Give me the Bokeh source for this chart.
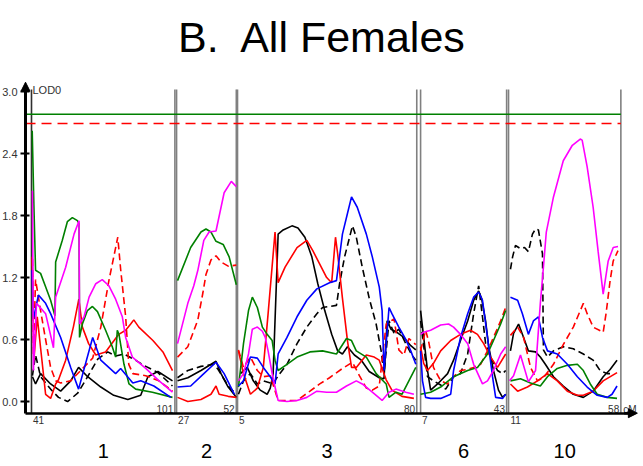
from bokeh.plotting import figure
from bokeh.models import (LinearAxis, FixedTicker, Range1d, Label, LabelSet, Arrow, NormalHead,
                          PrintfTickFormatter, CustomJSTickFormatter, ColumnDataSource)
from bokeh.embed import file_html
from bokeh.resources import INLINE
from bokeh.core.properties import value

# ---------------- chart data ----------------
title_text = "B.\u00a0 All Females"
chrom_names = ["1", "2", "3", "6", "10"]
chrom_start_cm = [41, 27, 5, 7, 11]
chrom_end_cm = [101, 52, 80, 43, 58]
lod_ticks = [0.0, 0.6, 1.2, 1.8, 2.4, 3.0]
threshold_green = 2.78
threshold_red_dash = 2.69

# chromosome 1
c1_black_cm = [41.4, 42.7, 44.8, 49.0, 53.2, 57.4, 60.7, 64.5, 70.0, 75.4, 81.3, 86.7, 89.7, 93.9, 100]
c1_black_lod = [0.24, 0.17, 0.27, 0.17, 0.10, 0.20, 0.33, 0.24, 0.14, 0.06, 0.02, 0.06, 0.24, 0.29, 0.20]
c1_blackd_cm = [41.4, 42.7, 44.8, 49.0, 52.3, 56.1, 60.3, 64.5, 68.7, 72.9, 76.2, 79.6, 83.8, 88.0, 93.9, 100]
c1_blackd_lod = [0.25, 0.45, 0.24, 0.12, 0.04, 0.0, 0.08, 0.24, 0.41, 0.48, 0.44, 0.46, 0.41, 0.35, 0.28, 0.15]
c1_red_cm = [41.3, 42.0, 43.4, 46.9, 49.0, 51.1, 52.3, 55.3, 58.6, 60.8, 62.3, 64.9, 67.9, 72.0, 77.5, 80.4, 82.5, 83.8, 85.9, 91.8, 96.0, 100]
c1_red_lod = [1.40, 0.40, 0.82, 0.07, 0.03, 0.17, 0.21, 0.40, 0.73, 0.99, 0.72, 0.56, 0.45, 0.48, 0.65, 0.69, 0.75, 0.79, 0.72, 0.59, 0.48, 0.30]
c1_redd_cm = [41.4, 41.8, 42.7, 44.8, 46.9, 49.0, 51.1, 53.2, 57.4, 61.6, 66.6, 70.0, 73.3, 77.1, 78.3, 80.4, 81.7, 83.4, 88.8, 94.3, 100]
c1_redd_lod = [1.38, 0.45, 1.18, 0.88, 0.60, 0.33, 0.20, 0.18, 0.20, 0.30, 0.42, 0.72, 1.16, 1.59, 1.28, 0.82, 0.36, 0.27, 0.25, 0.20, 0.10]
c1_green_cm = [41.3, 42.0, 42.7, 44.8, 46.9, 49.0, 50.8, 51.1, 53.9, 56.0, 58.1, 60.2, 60.9, 61.1, 62.3, 64.4, 66.5, 68.6, 72.0, 74.8, 76.2, 76.9, 77.6, 79.7, 81.8, 84.6, 91.6, 100]
c1_green_lod = [2.62, 1.90, 1.27, 1.24, 1.11, 0.98, 0.83, 1.35, 1.56, 1.74, 1.78, 1.75, 1.72, 0.62, 0.75, 0.88, 0.92, 0.87, 0.69, 0.53, 0.43, 0.69, 0.65, 0.36, 0.17, 0.12, 0.09, 0.04]
c1_blue_cm = [41.2, 41.8, 43.9, 46.9, 49.0, 53.2, 57.4, 60.7, 66.6, 70.0, 76.2, 78.3, 83.4, 86.7, 92.2, 99.3]
c1_blue_lod = [1.27, 0.80, 1.03, 0.95, 0.85, 0.62, 0.33, 0.12, 0.62, 0.40, 0.27, 0.32, 0.18, 0.20, 0.15, 0.04]
c1_magenta_cm = [41.4, 41.8, 43.1, 46.9, 50.2, 51.1, 55.3, 58.8, 60.9, 61.1, 63.0, 65.1, 67.9, 70.6, 73.4, 76.2, 79.0, 80.4, 83.2, 88.8, 94.4, 100]
c1_magenta_lod = [2.04, 0.30, 0.95, 0.85, 0.52, 1.01, 1.30, 1.62, 1.75, 0.75, 0.82, 1.01, 1.14, 1.18, 1.12, 0.99, 0.82, 0.62, 0.43, 0.32, 0.20, 0.09]

# chromosome 2
c2_black_cm = [27.4, 31.7, 37.2, 43.5, 45.6, 48.6, 52.0]
c2_black_lod = [0.20, 0.23, 0.30, 0.39, 0.27, 0.14, 0.04]
c2_blackd_cm = [27.4, 31.7, 37.2, 42.7, 44.4, 48.6, 52.0]
c2_blackd_lod = [0.23, 0.30, 0.34, 0.36, 0.31, 0.15, 0.07]
c2_red_cm = [27.4, 31.7, 37.2, 41.4, 43.5, 44.8, 48.6, 52.0]
c2_red_lod = [0.04, 0.0, 0.02, 0.07, 0.15, 0.07, 0.05, 0.04]
c2_redd_cm = [27.4, 31.7, 35.9, 38.0, 39.3, 41.4, 43.5, 45.6, 48.6, 52.0]
c2_redd_lod = [0.43, 0.53, 0.79, 1.05, 1.23, 1.37, 1.41, 1.35, 1.31, 1.32]
c2_green_cm = [27.4, 32.9, 37.2, 39.3, 41.4, 43.5, 46.5, 49.0, 52.0]
c2_green_lod = [1.17, 1.49, 1.64, 1.67, 1.64, 1.55, 1.52, 1.40, 1.13]
c2_blue_cm = [27.4, 32.9, 38.4, 43.5, 46.9, 51.2]
c2_blue_lod = [0.14, 0.15, 0.27, 0.38, 0.27, 0.07]
c2_magenta_cm = [27.4, 31.7, 34.2, 35.9, 38.4, 40.6, 43.5, 46.9, 49.9, 52.0]
c2_magenta_lod = [0.56, 0.95, 1.12, 1.27, 1.56, 1.64, 1.65, 2.02, 2.13, 2.08]

# chromosome 3
c3_black_cm = [6.2, 9.1, 11.6, 14.5, 17.4, 18.7, 19.9, 22.0, 24.1, 27.8, 30.3, 33.2, 36.1, 38.6, 41.5, 44.4, 46.9, 48.9, 51.0, 53.9, 56.8, 60.1, 64.3, 66.3, 67.6, 69.2, 71.7, 74.6, 77.5, 79.6]
c3_black_lod = [0.27, 0.33, 0.20, 0.11, 0.07, 0.13, 0.27, 1.62, 1.66, 1.70, 1.68, 1.59, 1.40, 1.14, 0.88, 0.65, 0.49, 0.46, 0.53, 0.45, 0.40, 0.29, 0.23, 0.22, 0.78, 0.70, 0.67, 0.62, 0.54, 0.50]
c3_blackd_cm = [5.4, 7.5, 10.4, 13.3, 15.8, 19.9, 22.0, 25.7, 29.9, 34.0, 38.2, 40.6, 46.4, 47.7, 49.8, 53.1, 54.7, 57.2, 60.1, 63.0, 65.1, 66.3, 68.4, 70.5, 72.5, 75.4, 77.9, 79.6]
c3_blackd_lod = [0.07, 0.20, 0.27, 0.17, 0.20, 0.17, 0.25, 0.36, 0.56, 0.72, 0.85, 0.91, 0.93, 1.14, 1.40, 1.70, 1.59, 1.30, 1.00, 0.75, 0.49, 0.27, 0.78, 0.66, 0.70, 0.56, 0.45, 0.40]
c3_red_cm = [5.4, 7.5, 10.4, 13.3, 15.8, 17.8, 20.7, 22.0, 24.9, 29.9, 34.0, 36.5, 39.4, 42.3, 44.4, 46.0, 46.9, 48.9, 51.0, 52.7, 54.7, 58.9, 62.2, 64.3, 67.2, 69.6, 73.8, 78.8]
c3_red_lod = [0.49, 0.27, 0.07, 0.13, 0.33, 0.85, 1.64, 1.15, 1.30, 1.49, 1.56, 1.46, 1.33, 1.20, 1.15, 1.59, 1.43, 1.00, 0.59, 0.33, 0.33, 0.45, 0.43, 0.40, 0.21, 0.11, 0.05, 0.03]
c3_redd_cm = [5.4, 7.5, 10.4, 13.3, 15.8, 18.7, 22.0, 29.9, 35.3, 39.4, 43.5, 48.9, 53.1, 56.0, 58.9, 61.4, 64.3, 67.2, 70.5, 72.5, 74.6, 76.7, 79.6]
c3_redd_lod = [0.50, 0.33, 0.43, 0.30, 0.24, 0.25, 0.01, 0.01, 0.10, 0.17, 0.23, 0.32, 0.38, 0.25, 0.13, 0.11, 0.15, 0.75, 0.80, 0.50, 0.45, 0.61, 0.55]
c3_green_cm = [5.4, 7.5, 9.6, 11.2, 13.3, 15.4, 17.4, 19.5, 20.7, 22.0, 25.7, 29.9, 35.3, 40.6, 46.4, 50.6, 52.7, 54.7, 58.9, 63.0, 67.2, 68.4, 71.3, 73.8, 76.7, 79.6]
c3_green_lod = [0.14, 0.56, 0.88, 1.01, 0.91, 0.72, 0.65, 0.59, 0.40, 0.30, 0.36, 0.43, 0.48, 0.49, 0.46, 0.61, 0.59, 0.49, 0.43, 0.27, 0.17, 0.04, 0.09, 0.07, 0.20, 0.33]
c3_blue_cm = [5.4, 7.5, 10.4, 13.3, 15.8, 18.7, 20.7, 22.0, 25.7, 29.9, 34.0, 38.2, 43.5, 46.4, 48.9, 51.0, 52.7, 55.1, 58.9, 61.4, 64.3, 65.5, 66.3, 68.4, 69.6, 72.5, 75.4, 77.5, 79.6]
c3_blue_lod = [0.15, 0.20, 0.43, 0.42, 0.33, 0.24, 0.17, 0.46, 0.62, 0.82, 0.98, 1.09, 1.15, 1.17, 1.62, 1.82, 1.98, 1.88, 1.62, 1.40, 1.11, 0.88, 0.30, 0.91, 0.85, 0.72, 0.60, 0.49, 0.36]
c3_magenta_cm = [5.4, 7.5, 9.6, 11.2, 13.3, 15.4, 16.6, 17.8, 19.5, 20.7, 22.0, 25.7, 29.9, 34.0, 38.2, 42.3, 46.4, 50.6, 54.7, 57.2, 61.4, 65.5, 68.4, 71.3, 75.4, 78.8]
c3_magenta_lod = [0.20, 0.27, 0.46, 0.70, 0.72, 0.68, 0.62, 0.49, 0.27, 0.14, 0.01, 0.0, 0.01, 0.04, 0.10, 0.09, 0.09, 0.15, 0.20, 0.17, 0.09, 0.01, 0.09, 0.12, 0.09, 0.07]

# chromosome 6
c6_black_cm = [7.0, 8.3, 9.9, 11.2, 14.1, 18.3, 20.8, 23.7, 26.7, 29.2, 31.3, 32.5, 34.2, 35.5, 37.5, 39.6, 41.3, 42.6]
c6_black_lod = [0.88, 0.62, 0.30, 0.11, 0.17, 0.27, 0.40, 0.59, 0.78, 0.98, 1.07, 1.00, 0.78, 0.53, 0.30, 0.11, 0.04, 0.07]
c6_blackd_cm = [7.0, 9.9, 12.4, 15.4, 17.5, 20.8, 23.7, 26.7, 29.2, 31.3, 32.9, 34.2, 36.3, 39.2, 41.3, 42.6]
c6_blackd_lod = [0.78, 0.24, 0.20, 0.16, 0.12, 0.24, 0.27, 0.46, 0.85, 1.12, 0.82, 0.56, 0.43, 0.30, 0.27, 0.30]
c6_red_cm = [7.0, 8.3, 9.9, 12.4, 15.4, 19.6, 23.7, 27.9, 30.8, 33.4, 36.3, 39.2, 42.6]
c6_red_lod = [0.53, 0.37, 0.30, 0.37, 0.49, 0.59, 0.65, 0.69, 0.65, 0.56, 0.43, 0.33, 0.46]
c6_redd_cm = [7.0, 9.1, 10.3, 12.4, 15.4, 18.3, 20.8, 23.7, 26.7, 29.2, 32.1, 35.0, 37.5, 40.5, 42.6]
c6_redd_lod = [0.49, 0.69, 0.59, 0.33, 0.20, 0.17, 0.24, 0.30, 0.31, 0.33, 0.36, 0.49, 0.62, 0.78, 0.91]
c6_green_cm = [7.0, 11.2, 15.4, 20.8, 26.7, 30.8, 35.0, 37.5, 40.5, 42.6]
c6_green_lod = [0.07, 0.09, 0.14, 0.24, 0.30, 0.33, 0.46, 0.59, 0.75, 0.88]
c6_blue_cm = [7.0, 7.8, 9.1, 11.2, 15.4, 19.6, 20.8, 23.7, 26.7, 29.2, 31.3, 32.9, 35.0, 37.1, 38.4, 41.3, 42.6]
c6_blue_lod = [0.49, 0.20, 0.04, 0.03, 0.03, 0.07, 0.30, 0.62, 0.85, 1.01, 1.06, 0.98, 0.62, 0.24, 0.04, 0.03, 0.07]
c6_magenta_cm = [7.0, 8.3, 11.2, 15.4, 18.7, 20.8, 23.7, 26.7, 29.2, 32.9, 35.0, 37.5, 40.5, 42.6]
c6_magenta_lod = [0.65, 0.67, 0.69, 0.74, 0.75, 0.72, 0.65, 0.56, 0.36, 0.17, 0.20, 0.30, 0.46, 0.53]

# chromosome 10
c10_black_cm = [11.8, 13.1, 15.2, 17.3, 19.3, 22.3, 24.3, 26.4, 29.8, 33.9, 38.1, 42.3, 46.4, 50.6, 53.5, 56.4]
c10_black_lod = [0.49, 0.66, 0.75, 0.62, 0.49, 0.48, 0.43, 0.36, 0.24, 0.15, 0.07, 0.04, 0.10, 0.24, 0.31, 0.40]
c10_blackd_cm = [11.8, 12.7, 13.9, 16.0, 17.7, 19.3, 21.0, 22.3, 23.5, 25.2, 25.6, 27.3, 29.8, 33.9, 38.1, 42.3, 46.4, 49.3, 52.3, 54.8]
c10_blackd_lod = [1.28, 1.40, 1.51, 1.48, 1.49, 1.45, 1.62, 1.67, 1.66, 1.43, 0.50, 0.43, 0.49, 0.53, 0.51, 0.46, 0.40, 0.30, 0.27, 0.27]
c10_red_cm = [11.8, 14.8, 18.9, 23.1, 27.3, 31.4, 35.6, 39.8, 42.3, 46.4, 50.6, 56.4]
c10_red_lod = [0.17, 0.10, 0.14, 0.20, 0.27, 0.20, 0.10, 0.06, 0.06, 0.10, 0.20, 0.28]
c10_redd_cm = [11.8, 14.8, 17.3, 20.2, 23.1, 25.6, 29.8, 33.9, 38.1, 42.3, 43.9, 46.4, 50.6, 51.8, 53.5, 54.8, 56.8]
c10_redd_lod = [0.64, 0.72, 0.62, 0.33, 0.20, 0.23, 0.36, 0.55, 0.72, 0.95, 0.85, 0.72, 0.67, 0.85, 1.17, 1.36, 1.46]
c10_green_cm = [11.8, 16.0, 20.2, 24.3, 27.3, 31.4, 35.6, 39.8, 42.3, 45.2, 48.1, 52.3, 56.4]
c10_green_lod = [0.20, 0.22, 0.18, 0.15, 0.24, 0.32, 0.35, 0.36, 0.30, 0.17, 0.07, 0.04, 0.03]
c10_blue_cm = [11.8, 14.8, 16.8, 19.3, 21.4, 23.5, 25.2, 27.3, 31.4, 35.6, 39.8, 43.9, 48.1, 52.3, 54.3, 56.4]
c10_blue_lod = [1.01, 0.98, 0.85, 0.65, 0.78, 0.82, 0.62, 0.49, 0.46, 0.36, 0.24, 0.14, 0.06, 0.04, 0.07, 0.15]
c10_magenta_cm = [11.4, 13.1, 16.0, 19.3, 22.3, 24.3, 25.6, 26.8, 29.8, 33.9, 37.7, 41.0, 41.8, 43.9, 46.4, 48.5, 50.6, 52.7, 54.8, 56.8]
c10_magenta_lod = [0.20, 0.25, 0.45, 0.19, 0.30, 0.95, 1.30, 1.64, 1.98, 2.33, 2.48, 2.54, 2.53, 2.27, 1.88, 1.45, 1.04, 1.36, 1.49, 1.50]

# ---------------- assembling ----------------
series_order = ["black", "blackd", "red", "redd", "green", "blue", "magenta"]
series_style = {
    "black": ("#000000", "solid"),
    "blackd": ("#000000", "7 4"),
    "red": ("#ff0000", "solid"),
    "redd": ("#ff0000", "7 4"),
    "green": ("#008000", "solid"),
    "blue": ("#0000ff", "solid"),
    "magenta": ("#ff00ff", "solid"),
}
chrom_data = {
    "1": {"black": (c1_black_cm, c1_black_lod), "blackd": (c1_blackd_cm, c1_blackd_lod),
          "red": (c1_red_cm, c1_red_lod), "redd": (c1_redd_cm, c1_redd_lod),
          "green": (c1_green_cm, c1_green_lod), "blue": (c1_blue_cm, c1_blue_lod),
          "magenta": (c1_magenta_cm, c1_magenta_lod)},
    "2": {"black": (c2_black_cm, c2_black_lod), "blackd": (c2_blackd_cm, c2_blackd_lod),
          "red": (c2_red_cm, c2_red_lod), "redd": (c2_redd_cm, c2_redd_lod),
          "green": (c2_green_cm, c2_green_lod), "blue": (c2_blue_cm, c2_blue_lod),
          "magenta": (c2_magenta_cm, c2_magenta_lod)},
    "3": {"black": (c3_black_cm, c3_black_lod), "blackd": (c3_blackd_cm, c3_blackd_lod),
          "red": (c3_red_cm, c3_red_lod), "redd": (c3_redd_cm, c3_redd_lod),
          "green": (c3_green_cm, c3_green_lod), "blue": (c3_blue_cm, c3_blue_lod),
          "magenta": (c3_magenta_cm, c3_magenta_lod)},
    "6": {"black": (c6_black_cm, c6_black_lod), "blackd": (c6_blackd_cm, c6_blackd_lod),
          "red": (c6_red_cm, c6_red_lod), "redd": (c6_redd_cm, c6_redd_lod),
          "green": (c6_green_cm, c6_green_lod), "blue": (c6_blue_cm, c6_blue_lod),
          "magenta": (c6_magenta_cm, c6_magenta_lod)},
    "10": {"black": (c10_black_cm, c10_black_lod), "blackd": (c10_blackd_cm, c10_blackd_lod),
           "red": (c10_red_cm, c10_red_lod), "redd": (c10_redd_cm, c10_redd_lod),
           "green": (c10_green_cm, c10_green_lod), "blue": (c10_blue_cm, c10_blue_lod),
           "magenta": (c10_magenta_cm, c10_magenta_lod)},
}

# layout of the concatenated genome axis (cM units)
chrom_x0 = [0.0, 60.7, 86.2, 162.8, 199.6]
chrom_len = [e - s for s, e in zip(chrom_start_cm, chrom_end_cm)]
chrom_x1 = [x0 + L for x0, L in zip(chrom_x0, chrom_len)]
yaxis_x = -2.5
xaxis_y = -0.113
PX_PER_UNIT = 2.39
FONT = "Liberation Sans"

p = figure(width=643, height=466, output_backend="svg", toolbar_location=None,
           x_axis_type=None, y_axis_type=None,
           x_range=Range1d(-12.97, 256.07), y_range=Range1d(-0.629, 3.881),
           min_border=0, outline_line_color=None,
           background_fill_color="white", border_fill_color="white")

# axes
yax = LinearAxis(fixed_location=yaxis_x, ticker=FixedTicker(ticks=lod_ticks),
                 formatter=PrintfTickFormatter(format="%.1f"),
                 bounds=(xaxis_y, 3.04))
yax.axis_line_width = 3
yax.axis_line_color = "black"
yax.major_tick_in = 4
yax.major_tick_out = 5
yax.major_tick_line_width = 2
yax.minor_tick_line_color = None
yax.major_label_text_font = FONT
yax.major_label_text_font_size = "11px"
yax.major_label_text_color = "#333333"
yax.major_label_standoff = 3
p.add_layout(yax, "left")

# start-of-chromosome labels: set just right of each chromosome's first line
start_labels = [str(v) for v in chrom_start_cm]
start_tick_pos = [x0 + (len(lab) * 2.8 + 1.5) / PX_PER_UNIT for x0, lab in zip(chrom_x0, start_labels)]
xfmt = CustomJSTickFormatter(args=dict(pos=start_tick_pos, lab=start_labels), code="""
let best = 0, bd = 1e9;
for (let i = 0; i < pos.length; i++) { const d = Math.abs(pos[i] - tick); if (d < bd) { bd = d; best = i; } }
return lab[best];
""")
xax = LinearAxis(fixed_location=xaxis_y, ticker=FixedTicker(ticks=start_tick_pos), formatter=xfmt,
                 bounds=(yaxis_x, 251.5))
xax.axis_line_width = 2.5
xax.axis_line_color = "black"
xax.major_tick_in = 0
xax.major_tick_out = 0
xax.minor_tick_line_color = None
xax.major_label_text_font = FONT
xax.major_label_text_font_size = "10px"
xax.major_label_text_color = "#333333"
xax.major_label_standoff = 3
p.add_layout(xax, "below")

p.add_layout(Arrow(end=NormalHead(size=9, fill_color="black", line_color="black"),
                   x_start=yaxis_x, y_start=3.0, x_end=yaxis_x, y_end=3.09,
                   line_width=3, line_color="black"))
p.add_layout(Arrow(end=NormalHead(size=9, fill_color="black", line_color="black"),
                   x_start=248.0, y_start=xaxis_y, x_end=253.5, y_end=xaxis_y,
                   line_width=2.5, line_color="black"))

# chromosome boundary lines
sep_x = chrom_x0 + chrom_x1
sep_col = ["#303030"] + ["#808080"] * (len(sep_x) - 1)
p.segment(x0=sep_x, y0=[xaxis_y] * len(sep_x), x1=sep_x, y1=[3.02] * len(sep_x),
          line_color=sep_col, line_width=1.6)

# thresholds
p.line([yaxis_x, chrom_x1[-1]], [threshold_green, threshold_green], line_color="#008000", line_width=1.6)
p.line([yaxis_x, chrom_x1[-1]], [threshold_red_dash, threshold_red_dash], line_color="#ff0000",
       line_width=1.6, line_dash="10 6")

# LOD curves
for i, name in enumerate(chrom_names):
    for s in series_order:
        cm, lod = chrom_data[name][s]
        col, dash = series_style[s]
        xs = [chrom_x0[i] + (c - chrom_start_cm[i]) for c in cm]
        p.line(xs, lod, line_color=col, line_width=1.6, line_dash=dash)

# end-of-chromosome labels
p.text(x=[x - 0.7 for x in chrom_x1], y=[-0.075] * len(chrom_x1), text=[str(v) for v in chrom_end_cm],
       text_align="right", text_baseline="alphabetic", text_font=value(FONT),
       text_font_size="10px", text_color="#333333")
p.text(x=[chrom_x1[-1] + 1.0], y=[-0.075], text=["cM"], text_align="left",
       text_baseline="alphabetic", text_font=value(FONT), text_font_size="10px", text_color="#333333")

# chromosome names (annotation, below the axis)
name_src = ColumnDataSource(dict(x=[(a + b) / 2 for a, b in zip(chrom_x0, chrom_x1)],
                                 y=[-0.55] * len(chrom_names), text=chrom_names))
p.add_layout(LabelSet(x="x", y="y", text="text", source=name_src, text_align="center",
                      text_baseline="alphabetic", text_font=value(FONT), text_font_size="20px",
                      text_color="black"))

p.add_layout(Label(x=0.0, y=3.01, text="LOD0", text_font=FONT, text_font_size="11px",
                   text_color="#333333", text_baseline="alphabetic", x_offset=1))
p.add_layout(Label(x=121.8, y=3.532, text=title_text, text_font=FONT, text_font_size="43px",
                   text_align="center", text_baseline="alphabetic", text_color="black"))

open("out.html", "w").write(file_html(p, INLINE))
